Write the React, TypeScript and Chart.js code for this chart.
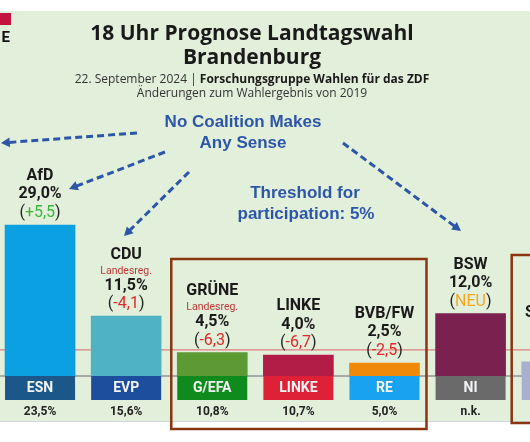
import { useEffect, useRef } from "react";
import { Chart, registerables } from "chart.js";

Chart.register(...registerables);

// ---- data ----
const parties = ["AfD", "CDU", "GRÜNE", "LINKE", "BVB/FW", "BSW", "Sonstige"];
const results = [29.0, 11.5, 4.5, 4.0, 2.5, 12.0, 2.7];
const changes = ["+5,5", "-4,1", "-6,3", "-6,7", "-2,5", "NEU", ""];
const notes = ["", "Landesreg.", "Landesreg.", "", "", "", ""];
const euGroups = ["ESN", "EVP", "G/EFA", "LINKE", "RE", "NI", ""];
const euResults = ["23,5%", "15,6%", "10,8%", "10,7%", "5,0%", "n.k.", ""];
const THRESHOLD = 5;

const partyColors = ["#0aa0e2", "#4fb3c5", "#5c9a34", "#b21d48", "#f0880a", "#7b2150", "#a9afce"];
const euColors = ["#1b5889", "#1c4e9d", "#0f8a1c", "#df2137", "#18a2f0", "#6a6a6a", "#a9afce"];

const TITLE1 = "18 Uhr Prognose Landtagswahl";
const TITLE2 = "Brandenburg";
const SUB_A = "22. September 2024 | ";
const SUB_B = "Forschungsgruppe Wahlen für das ZDF";
const SUB2 = "Änderungen zum Wahlergebnis von 2019";
const NOTE1 = ["No Coalition Makes", "Any Sense"];
const NOTE2 = ["Threshold for", "participation: 5%"];

const BLUE = "#2d56a8";
const BROWN = "#8a3510";

function fmt(v: number) {
  return v.toFixed(1).replace(".", ",") + "%";
}

function arrow(ctx: CanvasRenderingContext2D, x1: number, y1: number, x2: number, y2: number) {
  const ang = Math.atan2(y2 - y1, x2 - x1);
  const head = 10;
  const ex = x2 - Math.cos(ang) * head * 0.8;
  const ey = y2 - Math.sin(ang) * head * 0.8;
  ctx.save();
  ctx.strokeStyle = BLUE;
  ctx.fillStyle = BLUE;
  ctx.lineWidth = 3;
  ctx.setLineDash([7, 4]);
  ctx.beginPath();
  ctx.moveTo(x1, y1);
  ctx.lineTo(ex, ey);
  ctx.stroke();
  ctx.setLineDash([]);
  ctx.beginPath();
  ctx.moveTo(x2, y2);
  ctx.lineTo(x2 - Math.cos(ang - 0.5) * head, y2 - Math.sin(ang - 0.5) * head);
  ctx.lineTo(x2 - Math.cos(ang + 0.5) * head, y2 - Math.sin(ang + 0.5) * head);
  ctx.closePath();
  ctx.fill();
  ctx.restore();
}

const decor = {
  id: "decor",
  beforeDraw(chart: any) {
    const ctx: CanvasRenderingContext2D = chart.ctx;
    const W = chart.width;
    ctx.save();
    ctx.fillStyle = "#ffffff";
    ctx.fillRect(0, 0, W, chart.height);
    ctx.fillStyle = "#e2efda";
    ctx.fillRect(0, 11, W, 411);
    ctx.fillStyle = "#cdd9df";
    ctx.fillRect(0, 421, W, 1);

    // top-left fragment
    ctx.fillStyle = "#c2143f";
    ctx.fillRect(0, 13, 11, 12);
    ctx.fillStyle = "#111";
    ctx.font = "bold 15px Roboto";
    ctx.textAlign = "right";
    ctx.textBaseline = "alphabetic";
    ctx.fillText("E", 10, 42);

    // titles
    const cx = 252;
    ctx.textAlign = "center";
    ctx.fillStyle = "#1a1a1a";
    ctx.font = "bold 21px 'Open Sans'";
    ctx.fillText(TITLE1, cx, 39.5);
    ctx.fillText(TITLE2, cx, 63.5);

    ctx.font = "12px 'Open Sans'";
    const wa = ctx.measureText(SUB_A).width;
    ctx.font = "bold 12px 'Open Sans'";
    const wb = ctx.measureText(SUB_B).width;
    const sx = cx - (wa + wb) / 2;
    ctx.textAlign = "left";
    ctx.fillStyle = "#333";
    ctx.font = "12px 'Open Sans'";
    ctx.fillText(SUB_A, sx, 82.5);
    ctx.fillStyle = "#1a1a1a";
    ctx.font = "bold 12px 'Open Sans'";
    ctx.fillText(SUB_B, sx + wa, 82.5);
    ctx.textAlign = "center";
    ctx.fillStyle = "#333";
    ctx.font = "12px 'Open Sans'";
    ctx.fillText(SUB2, cx, 96.5);

    // reference lines
    const ys = chart.scales.y;
    const yT = ys.getPixelForValue(THRESHOLD);
    ctx.strokeStyle = "#e07f7f";
    ctx.lineWidth = 1.3;
    ctx.beginPath();
    ctx.moveTo(0, yT);
    ctx.lineTo(W, yT);
    ctx.stroke();
    const y0 = ys.getPixelForValue(0);
    ctx.strokeStyle = "#a9a9a9";
    ctx.lineWidth = 2;
    ctx.beginPath();
    ctx.moveTo(0, y0);
    ctx.lineTo(W, y0);
    ctx.stroke();
    ctx.restore();
  },
  afterDatasetsDraw(chart: any) {
    const ctx: CanvasRenderingContext2D = chart.ctx;
    const meta = chart.getDatasetMeta(0);
    ctx.save();
    meta.data.forEach((el: any, i: number) => {
      const x = el.x;
      const w = el.width;
      const base = el.base;
      const top = el.y;
      // EU group box
      ctx.fillStyle = euColors[i];
      ctx.fillRect(x - w / 2, base, w, 24);
      ctx.textAlign = "center";
      ctx.textBaseline = "middle";
      if (euGroups[i]) {
        ctx.fillStyle = "#f2f4f6";
        ctx.font = "bold 14px Roboto";
        ctx.fillText(euGroups[i], x, base + 12.5);
      }
      if (euResults[i]) {
        ctx.fillStyle = "#222";
        ctx.font = "bold 12px Roboto";
        ctx.fillText(euResults[i], x, base + 36);
      }
      // labels above bar
      const yChange = top - 12;
      const yValue = yChange - 18.5;
      let yName = yValue - 18.5;
      if (changes[i]) {
        ctx.font = "16px Roboto";
        const wl = ctx.measureText("(").width;
        const wm = ctx.measureText(changes[i]).width;
        const wr = ctx.measureText(")").width;
        const lx = x - (wl + wm + wr) / 2;
        ctx.textAlign = "left";
        ctx.fillStyle = "#222";
        ctx.fillText("(", lx, yChange);
        const c = changes[i];
        ctx.fillStyle = c.startsWith("+") ? "#3db43c" : c.startsWith("-") ? "#e02828" : "#f5a623";
        ctx.fillText(c, lx + wl, yChange);
        ctx.fillStyle = "#222";
        ctx.fillText(")", lx + wl + wm, yChange);
        ctx.textAlign = "center";
      }
      ctx.fillStyle = "#1a1a1a";
      ctx.font = "bold 16px Roboto";
      ctx.fillText(fmt(results[i]), x, yValue);
      if (notes[i]) {
        const yNote = yValue - 14.5;
        ctx.fillStyle = "#c0393b";
        ctx.font = "10.5px Roboto";
        ctx.fillText(notes[i], x, yNote);
        yName = yNote - 16.5;
      }
      ctx.fillStyle = "#1a1a1a";
      ctx.font = "bold 16px Roboto";
      ctx.fillText(parties[i], x, yName);
    });

    // brown frames around groups
    const b = meta.data;
    ctx.strokeStyle = BROWN;
    ctx.lineWidth = 2.5;
    const l1 = b[2].x - b[2].width / 2 - 6;
    const r1 = b[4].x + b[4].width / 2 + 7;
    ctx.strokeRect(l1, 259, r1 - l1, 170);
    ctx.strokeRect(b[6].x - b[6].width / 2 - 10, 255, 100, 168);

    // annotations
    arrow(ctx, 137, 133, 1, 143);
    arrow(ctx, 165, 152, 69, 189);
    arrow(ctx, 189, 172, 124, 236);
    arrow(ctx, 343, 143, 461, 231);

    ctx.fillStyle = BLUE;
    ctx.font = "bold 17px 'Liberation Sans'";
    ctx.textAlign = "center";
    ctx.textBaseline = "middle";
    ctx.fillText(NOTE1[0], 243, 122);
    ctx.fillText(NOTE1[1], 243, 143);
    ctx.fillText(NOTE2[0], 305, 193);
    ctx.fillText(NOTE2[1], 306, 214);
    ctx.restore();
  },
};

export default function App() {
  const ref = useRef<HTMLCanvasElement>(null);
  useEffect(() => {
    document.body.style.margin = "0";
    let chart: Chart | null = null;
    let cancelled = false;
    const fonts = [
      "bold 16px Roboto",
      "16px Roboto",
      "bold 21px 'Open Sans'",
      "12px 'Open Sans'",
      "bold 12px 'Open Sans'",
      "bold 17px 'Liberation Sans'",
    ];
    Promise.all(fonts.map((f) => document.fonts.load(f)))
      .catch(() => null)
      .then(() => {
        if (cancelled || !ref.current) return;
        chart = new Chart(ref.current, {
          type: "bar",
          data: {
            datasets: [
              {
                data: results.map((v, i) => ({ x: i, y: v })),
                backgroundColor: partyColors,
                borderWidth: 0,
                barThickness: 70,
              },
            ],
          },
          options: {
            responsive: false,
            devicePixelRatio: 1,
            animation: false,
            events: [],
            layout: { padding: 0 },
            plugins: { legend: { display: false }, tooltip: { enabled: false }, title: { display: false } },
            scales: {
              x: { type: "linear", min: -0.465, max: 5.69, offset: false, grid: { offset: false }, display: false },
              y: { type: "linear", min: -12.675, max: 72.21, display: false },
            },
          },
          plugins: [decor],
        } as any);
      });
    return () => {
      cancelled = true;
      if (chart) chart.destroy();
    };
  }, []);
  return (
    <div style={{ width: 530, height: 442 }}>
      <canvas ref={ref} width={530} height={442} style={{ display: "block" }} />
    </div>
  );
}
